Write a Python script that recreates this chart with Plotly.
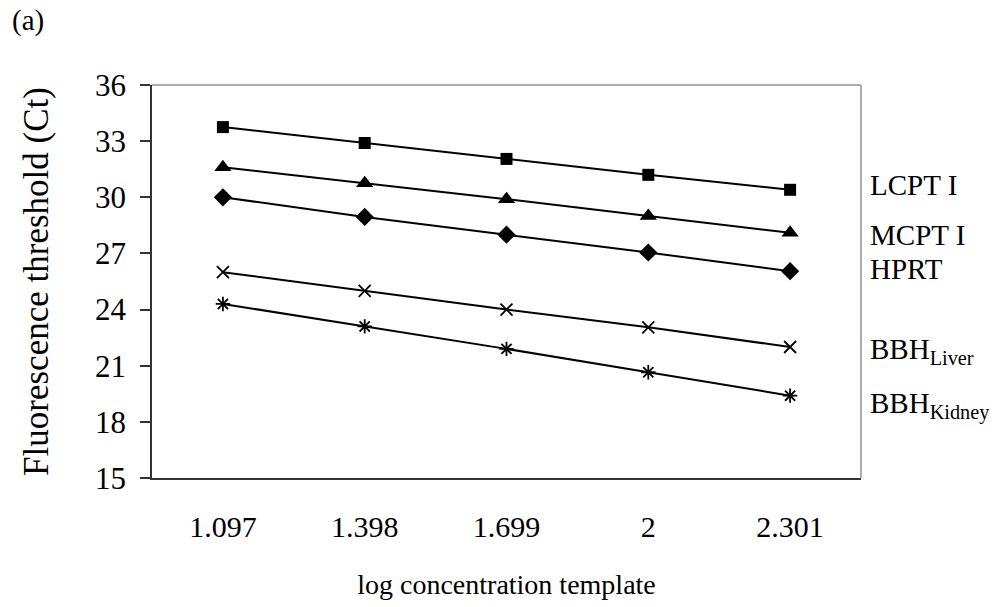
import plotly.graph_objects as go

x_labels = ["1.097", "1.398", "1.699", "2", "2.301"]

lcpt = [33.75, 32.9, 32.05, 31.2, 30.4]
mcpt = [31.6, 30.75, 29.9, 29.0, 28.1]
hprt = [30.0, 28.95, 28.0, 27.05, 26.05]
bbh_liver = [26.0, 25.0, 24.0, 23.05, 22.0]
bbh_kidney = [24.3, 23.1, 21.9, 20.65, 19.4]

series = [
    ("LCPT I", lcpt, "square", 12, 5),
    ("MCPT I", mcpt, "triangle-up", 15, -2),
    ("HPRT", hprt, "diamond", 14, 2),
    ("BBH<sub>Liver</sub>", bbh_liver, "x-thin-open", 12, -4),
    ("BBH<sub>Kidney</sub>", bbh_kidney, "asterisk-open", 12, -10),
]

FONT = "Liberation Serif, Times New Roman, serif"

fig = go.Figure()
for name, vals, sym, size, _ in series:
    open_sym = sym.endswith("open")
    fig.add_trace(go.Scatter(
        x=x_labels, y=vals, mode="lines+markers", name=name,
        line=dict(color="black", width=2),
        marker=dict(symbol=sym, size=size, color="black",
                    line=dict(color="black", width=1.8 if open_sym else 0)),
        showlegend=False,
    ))

annotations = []
for name, vals, sym, size, yshift in series:
    annotations.append(dict(
        x=1, xref="x domain", y=vals[-1], yref="y",
        text=name, showarrow=False, xanchor="left", yanchor="middle",
        xshift=7, yshift=yshift,
        font=dict(family=FONT, size=29, color="black"),
    ))
annotations.append(dict(
    x=-0.2003, xref="paper", y=1.164, yref="paper", text="(a)",
    showarrow=False, xanchor="left", yanchor="middle",
    font=dict(family=FONT, size=29, color="black"),
))

fig.update_layout(
    width=1000, height=607,
    margin=dict(l=152, r=139, t=85, b=127),
    paper_bgcolor="white", plot_bgcolor="white",
    font=dict(family=FONT, size=29, color="black"),
    annotations=annotations,
    shapes=[
        dict(type="line", xref="x domain", yref="y domain", x0=0, x1=1, y0=1, y1=1,
             line=dict(color="#909090", width=1.5)),
        dict(type="line", xref="x domain", yref="y domain", x0=1, x1=1, y0=0, y1=1,
             line=dict(color="#909090", width=1.5)),
    ],
    xaxis=dict(
        type="category", range=[-0.5, 4.5], showgrid=False, zeroline=False,
        showline=True, linecolor="#333333", linewidth=1.5,
        ticks="", ticklabelstandoff=21,
        tickfont=dict(family=FONT, size=30),
        title=dict(text="log concentration template", standoff=33,
                   font=dict(family=FONT, size=28)),
    ),
    yaxis=dict(
        range=[15, 36], dtick=3, tick0=15, showgrid=False, zeroline=False,
        showline=True, linecolor="#333333", linewidth=1.5,
        ticks="outside", ticklen=10, tickcolor="#333333", tickwidth=1.5,
        ticklabelstandoff=8,
        tickfont=dict(family=FONT, size=31),
        title=dict(text="Fluorescence threshold (Ct)", standoff=36,
                   font=dict(family=FONT, size=35)),
    ),
)

fig.write_html("out.html")
